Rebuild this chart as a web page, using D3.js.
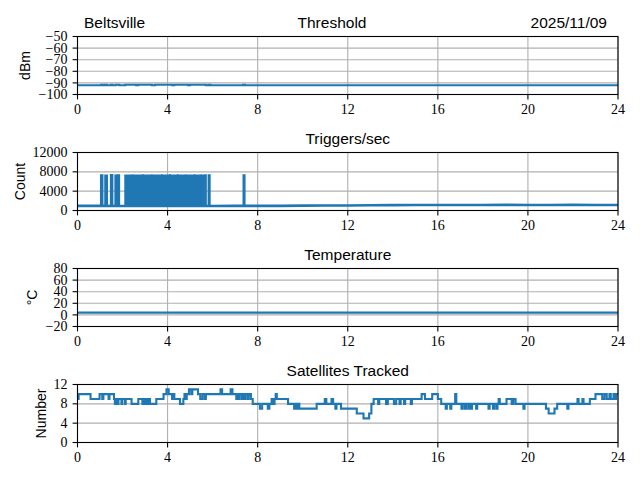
<!DOCTYPE html>
<html><head><meta charset="utf-8">
<script src="https://cdn.jsdelivr.net/npm/d3@7"></script>
<style>
html,body{margin:0;padding:0;background:#fff;}
svg{display:block;}
</style></head>
<body>
<svg id="c" width="640" height="480"></svg>
<script>
// ---------------- DATA ----------------
const xTicks = [0, 4, 8, 12, 16, 20, 24];
const titleLeft = "Beltsville";
const titleRight = "2025/11/09";
const panelTitles = ["Threshold", "Triggers/sec", "Temperature", "Satellites Tracked"];
const yLabels = ["dBm", "Count", "°C", "Number"];

const thresholdTicks = [-50, -60, -70, -80, -90, -100];
const triggerTicks = [0, 4000, 8000, 12000];
const temperatureTicks = [-20, 0, 20, 40, 60, 80];
const satelliteTicks = [0, 4, 8, 12];

// Threshold (dBm) vs hour
const thresholdSeries = [
  [0,-92],[1.05,-91.6],[1.12,-92],[1.22,-91.6],[1.3,-92],[1.48,-91.6],[1.55,-92],
  [1.7,-91.6],[1.85,-92],[2.12,-91.6],[2.6,-92],[2.7,-91.6],[3.3,-92],[3.45,-91.6],
  [4.2,-92],[4.3,-91.6],[4.9,-92],[5.0,-91.6],[5.7,-92],[5.82,-91.6],[5.9,-92],
  [7.36,-91.6],[7.44,-92],[24,-92]
];

// Triggers/sec baseline (hourly)
const triggerHours = [0,1,2,3,4,5,6,7,8,9,10,11,12,13,14,15,16,17,18,19,20,21,22,23,24];
const triggerBase  = [950,950,930,920,920,920,920,950,950,960,1000,1020,1050,1080,1120,1130,1150,1150,1150,1160,1150,1150,1160,1150,1150];
// Burst intervals: [start hour, end hour, peak count]
const triggerBursts = [
  [1.03,1.12,7350],[1.22,1.32,7300],[1.47,1.56,7400],[1.67,1.74,7300],[1.77,1.86,7350],
  [2.11,5.62,7300],[5.66,5.71,7350],[5.81,5.88,7350],[7.36,7.43,7350]
];
// Small over-shoots on the top edge of the dense burst
const burstPeaks = [
  [2.45,7450],[2.9,7500],[3.3,7450],[3.75,7500],[4.1,7550],[4.45,7500],[4.8,7450],[5.2,7500],[5.5,7450]
];

// Temperature (°C), hourly
const temperatureHours = [0,2,4,6,8,10,12,14,16,18,20,22,24];
const temperatureVals  = [4,4,4,4,4,4,4,4,4,4,4,4,4];

// Satellites tracked: [hour, count] (step changes)
const satelliteSeries = [
  [0,9],[0.05,10],[0.58,9],[0.98,10],[1.10,9],[1.15,10],[1.38,9],[1.42,10],[1.62,9],[1.66,8],
  [1.70,9],[1.78,8],[1.82,9],[1.95,8],[1.98,9],[2.10,8],[2.14,9],[2.40,8],[2.70,9],[2.88,8],
  [2.92,9],[3.00,8],[3.05,9],[3.10,8],[3.18,9],[3.22,8],[3.50,9],[3.82,10],[3.95,11],[4.05,10],
  [4.20,9],[4.25,10],[4.30,9],[4.55,8],[4.70,9],[4.75,10],[4.80,9],[4.85,10],[4.95,11],[5.05,10],
  [5.10,11],[5.35,10],[5.45,9],[5.55,10],[5.65,9],[5.70,10],[6.35,11],[6.42,10],[6.80,11],[6.88,10],
  [7.05,9],[7.08,10],[7.15,9],[7.20,10],[7.30,9],[7.35,10],[7.40,9],[7.45,10],[7.55,9],[7.60,10],
  [7.70,9],[7.78,8],[8.10,7],[8.20,8],[8.45,7],[8.52,8],[8.62,9],[8.70,8],[8.75,9],[8.80,10],
  [8.85,9],[9.35,8],[9.62,7],[9.68,8],[9.75,7],[9.80,8],[9.85,7],[10.62,8],[10.98,9],[11.05,8],
  [11.28,9],[11.35,8],[11.45,7],[11.50,8],[11.70,7],[12.40,6],[12.70,5],[12.95,6],[13.05,8],[13.15,9],
  [13.35,8],[13.40,9],[13.70,8],[13.78,9],[14.05,8],[14.15,9],[14.30,8],[14.35,9],[14.50,8],[14.55,9],
  [14.80,8],[14.85,9],[15.28,10],[15.43,9],[15.75,10],[16.00,9],[16.15,8],[16.35,7],[16.40,8],[16.55,7],
  [16.60,8],[16.77,10],[16.82,8],[17.05,7],[17.10,8],[17.20,7],[17.25,8],[17.35,7],[17.40,8],[17.45,7],
  [17.52,8],[17.70,7],[17.75,8],[18.25,7],[18.30,8],[18.45,7],[18.50,8],[18.60,7],[18.65,8],[18.70,9],
  [18.75,8],[19.05,9],[19.28,8],[19.35,9],[19.45,8],[19.80,7],[19.85,8],[20.80,7],[20.92,6],[21.18,7],
  [21.30,8],[21.75,7],[21.80,8],[22.20,9],[22.25,8],[22.42,9],[22.47,8],[22.75,9],[23.00,10],[23.30,9],
  [23.40,10],[23.50,9],[23.62,10],[23.68,9],[23.80,10],[23.85,9],[23.92,10],[24,10]
];

// ---------------- DRAW ----------------
const svg = d3.select("#c");
const BLUE = "#1f77b4";
const left = 77.5, right = 618;
const panelTops = [36.5, 152.5, 268.5, 384.5];
const panelH = 58;
const tickFont = "'Liberation Serif', 'DejaVu Serif', serif";
const sansFont = "'Liberation Sans', Arial, sans-serif";

const x = d3.scaleLinear().domain([0, 24]).range([left, right]);

const panels = [
  {domain:[-100,-50], ticks:thresholdTicks, ylabX:30},
  {domain:[0,12000], ticks:triggerTicks, ylabX:24.5},
  {domain:[-20,80], ticks:temperatureTicks, ylabX:37},
  {domain:[0,12], ticks:satelliteTicks, ylabX:46}
];

function fmt(v){ return (v < 0 ? "\u2212" + Math.abs(v) : String(v)); }

panels.forEach((p, i) => {
  const top = panelTops[i], bot = top + panelH;
  p.y = d3.scaleLinear().domain(p.domain).range([bot, top]);
  const g = svg.append("g");
  // clip
  svg.append("clipPath").attr("id","clip"+i).append("rect")
    .attr("x", left).attr("y", top).attr("width", right-left).attr("height", panelH);
  // grid
  g.selectAll(".gx").data(xTicks).enter().append("line")
    .attr("x1", d=>x(d)).attr("x2", d=>x(d)).attr("y1", top).attr("y2", bot)
    .attr("stroke","#b0b0b0").attr("stroke-width",1.1);
  g.selectAll(".gy").data(p.ticks).enter().append("line")
    .attr("x1", left).attr("x2", right).attr("y1", d=>p.y(d)).attr("y2", d=>p.y(d))
    .attr("stroke","#b0b0b0").attr("stroke-width",1.1);
  p.g = g;
  p.plot = svg.append("g").attr("clip-path","url(#clip"+i+")");
  p.top = top; p.bot = bot;
});

// Panel 1: threshold
{
  const p = panels[0];
  p.plot.append("path").datum(thresholdSeries)
    .attr("d", d3.line().x(d=>x(d[0])).y(d=>p.y(d[1])).curve(d3.curveStepAfter))
    .attr("fill","none").attr("stroke",BLUE).attr("stroke-width",2.1);
}
// Panel 2: triggers
{
  const p = panels[1];
  const baseAt = h => {
    const i = d3.bisectRight(triggerHours, h) - 1;
    const j = Math.min(i + 1, triggerHours.length - 1);
    const t = j === i ? 0 : (h - triggerHours[i]) / (triggerHours[j] - triggerHours[i]);
    return triggerBase[i] + (triggerBase[j] - triggerBase[i]) * t;
  };
  // bursts as filled blocks
  triggerBursts.forEach(b => {
    const pts = [[b[0], baseAt(b[0]), b[2]], [b[1], baseAt(b[1]), b[2]]];
    p.plot.append("path").datum(pts)
      .attr("d", d3.area().x(d=>x(d[0])).y0(d=>p.y(d[1])).y1(d=>p.y(d[2])))
      .attr("fill",BLUE).attr("stroke",BLUE).attr("stroke-width",1.5);
  });
  p.plot.selectAll(".pk").data(burstPeaks).enter().append("line")
    .attr("x1", d=>x(d[0])).attr("x2", d=>x(d[0]))
    .attr("y1", d=>p.y(7300)).attr("y2", d=>p.y(d[1]))
    .attr("stroke",BLUE).attr("stroke-width",1.5);
  const basePts = triggerHours.map((h,k)=>[h, triggerBase[k]]);
  p.plot.append("path").datum(basePts)
    .attr("d", d3.line().x(d=>x(d[0])).y(d=>p.y(d[1])))
    .attr("fill","none").attr("stroke",BLUE).attr("stroke-width",2.6);
}
// Panel 3: temperature
{
  const p = panels[2];
  const pts = temperatureHours.map((h,k)=>[h, temperatureVals[k]]);
  p.plot.append("path").datum(pts)
    .attr("d", d3.line().x(d=>x(d[0])).y(d=>p.y(d[1])))
    .attr("fill","none").attr("stroke",BLUE).attr("stroke-width",2.1);
}
// Panel 4: satellites
{
  const p = panels[3];
  p.plot.append("path").datum(satelliteSeries)
    .attr("d", d3.line().x(d=>x(d[0])).y(d=>p.y(d[1])).curve(d3.curveStepAfter))
    .attr("fill","none").attr("stroke",BLUE).attr("stroke-width",2.1);
}

// axes, spines, labels
panels.forEach((p, i) => {
  const top = p.top, bot = p.bot;
  const ax = svg.append("g");
  ax.append("rect").attr("x",left).attr("y",top).attr("width",right-left).attr("height",panelH)
    .attr("fill","none").attr("stroke","#000").attr("stroke-width",1.1);
  // x ticks
  ax.selectAll(".xt").data(xTicks).enter().append("line")
    .attr("x1", d=>x(d)).attr("x2", d=>x(d)).attr("y1", bot).attr("y2", bot+4.9)
    .attr("stroke","#000").attr("stroke-width",1.1);
  ax.selectAll(".xl").data(xTicks).enter().append("text")
    .attr("x", d=>x(d)).attr("y", bot+19.5).attr("text-anchor","middle")
    .attr("font-family", tickFont).attr("font-size", 14).text(d=>fmt(d));
  // y ticks
  ax.selectAll(".yt").data(p.ticks).enter().append("line")
    .attr("x1", left-4.9).attr("x2", left).attr("y1", d=>p.y(d)).attr("y2", d=>p.y(d))
    .attr("stroke","#000").attr("stroke-width",1.1);
  ax.selectAll(".yl").data(p.ticks).enter().append("text")
    .attr("x", 67.5).attr("y", d=>p.y(d)+4.6).attr("text-anchor","end")
    .attr("font-family", tickFont).attr("font-size", 14).text(d=>fmt(d));
  // ylabel
  ax.append("text").attr("transform", `translate(${p.ylabX},${(top+bot)/2}) rotate(-90)`)
    .attr("text-anchor","middle").attr("font-family", sansFont).attr("font-size", 14)
    .text(yLabels[i]);
  // title
  ax.append("text").attr("x", i===0 ? 332 : (left+right)/2).attr("y", top-8.5)
    .attr("text-anchor","middle").attr("font-family", sansFont).attr("font-size", 15.5)
    .text(panelTitles[i]);
});
svg.append("text").attr("x", 84).attr("y", panelTops[0]-8.5).attr("text-anchor","start")
  .attr("font-family", sansFont).attr("font-size", 15.5).text(titleLeft);
svg.append("text").attr("x", 607).attr("y", panelTops[0]-8.5).attr("text-anchor","end")
  .attr("font-family", sansFont).attr("font-size", 15.5).text(titleRight);
</script>
</body></html>
